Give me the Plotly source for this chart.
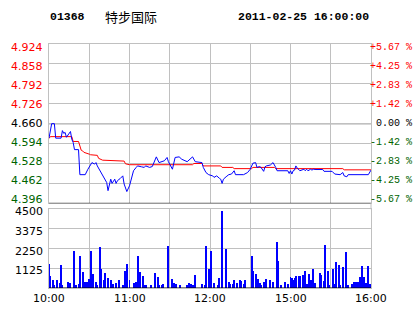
import plotly.graph_objects as go

# ---------------- data ----------------
PREV_CLOSE = 4.660
TITLE_CODE = "01368"
TITLE_NAME = "特步国际"
TITLE_TIME = "2011-02-25 16:00:00"

# minutes since 10:00 (morning 10:00-12:30 = 0-150, afternoon 14:30-16:00 = 150-240)
PRICE_MIN = [0, 1, 2, 4, 5, 9, 10, 11, 12, 13, 15, 16, 17, 18, 19, 22, 23, 27, 29, 30,
             32, 34, 35, 36, 38, 40, 41, 43, 44, 45, 46, 47, 49, 50, 51, 53, 55, 56, 58, 60,
             61, 62, 63, 65, 66, 69, 71, 72, 75, 77, 79, 80, 82, 86, 88, 89, 92, 93, 94, 97,
             99, 103, 105, 107, 109, 114, 115, 117, 119, 122, 123, 125, 127, 128, 129, 130, 132, 134, 136, 138,
             139, 145, 148, 150, 152, 154, 155, 157, 158, 160, 161, 162, 165, 166, 167, 169, 170, 178, 179, 180,
             181, 182, 183, 184, 185, 187, 188, 190, 191, 192, 193, 195, 196, 197, 199, 204, 205, 211, 213, 217,
             219, 220, 222, 223, 238, 240]
PRICE = [4.612, 4.631, 4.660, 4.660, 4.612, 4.612, 4.637, 4.628, 4.631, 4.615, 4.631, 4.634, 4.608, 4.598, 4.574, 4.574, 4.491, 4.491, 4.509, 4.515,
         4.531, 4.526, 4.531, 4.520, 4.504, 4.487, 4.482, 4.465, 4.438, 4.460, 4.476, 4.462, 4.476, 4.462, 4.471, 4.478, 4.487, 4.460, 4.435, 4.454,
         4.471, 4.487, 4.504, 4.515, 4.520, 4.517, 4.515, 4.520, 4.515, 4.518, 4.537, 4.550, 4.531, 4.537, 4.548, 4.534, 4.509, 4.526, 4.548, 4.550,
         4.542, 4.534, 4.542, 4.550, 4.534, 4.531, 4.515, 4.498, 4.491, 4.487, 4.482, 4.487, 4.479, 4.476, 4.462, 4.476, 4.484, 4.491, 4.493, 4.504,
         4.491, 4.491, 4.498, 4.509, 4.529, 4.531, 4.515, 4.518, 4.515, 4.502, 4.517, 4.520, 4.523, 4.529, 4.531, 4.515, 4.504, 4.504, 4.495, 4.504,
         4.493, 4.504, 4.506, 4.520, 4.513, 4.504, 4.506, 4.509, 4.504, 4.509, 4.504, 4.509, 4.506, 4.509, 4.508, 4.508, 4.502, 4.502, 4.493, 4.491,
         4.498, 4.487, 4.484, 4.491, 4.491, 4.506]

AVG_MIN = [0, 1, 17, 18, 22, 23, 24, 25, 26, 30, 31, 36, 37, 40, 47, 48, 56, 57, 59, 60,
           107, 108, 114, 115, 128, 129, 137, 138, 151, 152, 168, 169, 219, 220, 240]
AVG_PRICE = [4.611, 4.617, 4.617, 4.601, 4.601, 4.587, 4.572, 4.570, 4.565, 4.559, 4.557, 4.555, 4.545, 4.539, 4.538, 4.536, 4.536, 4.527, 4.526, 4.524,
             4.524, 4.528, 4.528, 4.520, 4.520, 4.515, 4.515, 4.511, 4.511, 4.515, 4.515, 4.511, 4.511, 4.507, 4.507]

VOL_MIN = [0, 1, 3, 4, 6, 8, 9, 10, 14, 16, 19, 20, 22, 23, 25, 27, 28, 30, 31, 33,
           35, 36, 38, 39, 41, 42, 44, 46, 47, 48, 50, 52, 55, 57, 58, 60, 63, 65, 66, 68,
           70, 71, 72, 76, 79, 81, 82, 84, 85, 89, 92, 93, 95, 98, 103, 104, 106, 107, 109, 114,
           116, 117, 119, 121, 123, 126, 127, 129, 132, 134, 135, 137, 138, 140, 142, 143, 145, 146, 151, 152,
           154, 156, 157, 158, 160, 162, 165, 167, 170, 171, 173, 176, 178, 180, 181, 182, 183, 184, 186, 187,
           189, 191, 192, 194, 195, 197, 198, 202, 203, 205, 206, 208, 209, 212, 213, 214, 216, 217, 219, 221,
           223, 226, 227, 229, 230, 232, 233, 235, 236, 238, 239]
VOLUME = [1330, 665, 420, 150, 420, 250, 1270, 135, 305, 250, 2070, 135, 190, 1785, 875, 305, 305, 475, 2070, 760,
          305, 135, 2355, 1045, 420, 815, 530, 420, 135, 190, 250, 420, 135, 930, 1330, 420, 250, 305, 1785, 875,
          645, 135, 135, 135, 815, 590, 135, 135, 190, 2410, 475, 250, 190, 135, 135, 250, 190, 135, 705, 190,
          135, 2410, 1045, 2070, 250, 135, 530, 4370, 2185, 305, 190, 190, 420, 250, 420, 360, 190, 420, 1785, 930,
          760, 475, 250, 135, 305, 475, 420, 305, 2640, 1555, 135, 305, 190, 590, 530, 420, 530, 645, 645, 645,
          705, 930, 190, 760, 420, 1045, 250, 815, 705, 360, 2470, 930, 135, 1045, 190, 1445, 1270, 135, 1160, 2015,
          135, 190, 305, 305, 305, 590, 1215, 590, 250, 1215, 190]

PRICE_TICKS = [4.924, 4.858, 4.792, 4.726, 4.660, 4.594, 4.528, 4.462, 4.396]
PCT_LABELS = ["+5.67 %", "+4.25 %", "+2.83 %", "+1.42 %", "0.00 %", "-1.42 %", "-2.83 %", "-4.25 %", "-5.67 %"]
VOL_TICKS = [4500, 3375, 2250, 1125]
TIME_TICKS = [0, 60, 120, 180, 240]
TIME_LABELS = ["10:00", "11:00", "12:00", "15:00", "16:00"]

# ---------------- style ----------------
RED = "#ff0000"
GREEN = "#006400"
GRID = "#c0c0c0"
SANS = "DejaVu Sans"
MONO = "Liberation Mono"

fig = go.Figure()
fig.add_trace(go.Scatter(x=AVG_MIN, y=AVG_PRICE, mode="lines", line=dict(color=RED, width=1),
                         xaxis="x", yaxis="y", hoverinfo="skip"))
fig.add_trace(go.Scatter(x=PRICE_MIN, y=PRICE, mode="lines", line=dict(color="#0000ff", width=1),
                         xaxis="x", yaxis="y", hoverinfo="skip"))
fig.add_trace(go.Bar(x=VOL_MIN, y=VOLUME, width=0.75, marker=dict(color="#0000ff", line=dict(width=0)),
                     xaxis="x2", yaxis="y2", hoverinfo="skip"))

ax_common = dict(showgrid=True, gridcolor=GRID, gridwidth=1, zeroline=False, showticklabels=False,
                 ticks="", showline=True, linecolor=GRID, linewidth=1, mirror=True, fixedrange=True)

fig.update_layout(
    width=414, height=314,
    margin=dict(l=49, r=43, t=44, b=26),
    paper_bgcolor="white", plot_bgcolor="white",
    showlegend=False, bargap=0,
    xaxis=dict(range=[0, 240], tickvals=list(range(0, 241, 30)), anchor="y", domain=[0, 1], **ax_common),
    yaxis=dict(range=[PRICE_TICKS[-1], PRICE_TICKS[0]], tickvals=PRICE_TICKS, anchor="x", domain=[0.347, 1], **ax_common),
    xaxis2=dict(range=[0, 240], tickvals=list(range(0, 241, 30)), anchor="y2", domain=[0, 1], **ax_common),
    yaxis2=dict(range=[0, 4500], tickvals=VOL_TICKS, anchor="x2", domain=[0, 0.3225], **ax_common),
)

shapes = [
    dict(type="line", xref="x", yref="y", x0=0, x1=240, y0=PREV_CLOSE, y1=PREV_CLOSE, line=dict(color="black", width=1), layer="below"),
    dict(type="line", xref="x", yref="y", x0=0, x1=240, y0=PRICE_TICKS[-1], y1=PRICE_TICKS[-1], line=dict(color="black", width=1)),
    dict(type="line", xref="x2", yref="y2", x0=0, x1=240, y0=0, y1=0, line=dict(color="black", width=1)),
    dict(type="line", xref="paper", yref="paper", x0=1, x1=1, y0=0.3225, y1=0.347, line=dict(color=GRID, width=1)),
]
fig.update_layout(shapes=shapes)

ann = []
n = len(PRICE_TICKS)
for i, (v, pl) in enumerate(zip(PRICE_TICKS, PCT_LABELS)):
    col = RED if v > PREV_CLOSE else ("black" if v == PREV_CLOSE else GREEN)
    ys = -3.4 + i * 0.85
    ann.append(dict(xref="paper", yref="y", x=0, y=v, text=f"{v:.3f}", xanchor="right", yanchor="middle",
                    xshift=-4, yshift=ys, showarrow=False, font=dict(family=SANS, size=11, color=col)))
    ann.append(dict(xref="paper", yref="y", x=1, y=v, text=pl, xanchor="right", yanchor="middle",
                    xshift=43, yshift=ys, showarrow=False, font=dict(family=MONO, size=10, color=col)))
for v in VOL_TICKS:
    ann.append(dict(xref="paper", yref="y2", x=0, y=v, text=str(v), xanchor="right", yanchor="middle",
                    xshift=-4, yshift=-2.5, showarrow=False, font=dict(family=SANS, size=11, color="black")))
for t, lab in zip(TIME_TICKS, TIME_LABELS):
    ann.append(dict(xref="x2", yref="y2", x=t, y=0, text=lab, xanchor="center", yanchor="middle",
                    yshift=-10, showarrow=False, font=dict(family=SANS, size=11, color="black")))

ann.append(dict(xref="paper", yref="paper", x=0, y=1, xshift=-1, yshift=28, text=f"<b>{TITLE_CODE}</b>",
                xanchor="left", yanchor="middle", showarrow=False, font=dict(family=MONO, size=11.5, color="black")))
ann.append(dict(xref="paper", yref="paper", x=0, y=1, xshift=54, yshift=28, text=TITLE_NAME,
                xanchor="left", yanchor="middle", showarrow=False, font=dict(family="Noto Sans CJK SC", size=13, color="black")))
ann.append(dict(xref="paper", yref="paper", x=0, y=1, xshift=187, yshift=28, text=f"<b>{TITLE_TIME}</b>",
                xanchor="left", yanchor="middle", showarrow=False, font=dict(family=MONO, size=11.5, color="black")))
fig.update_layout(annotations=ann)

fig.write_html("out.html")
